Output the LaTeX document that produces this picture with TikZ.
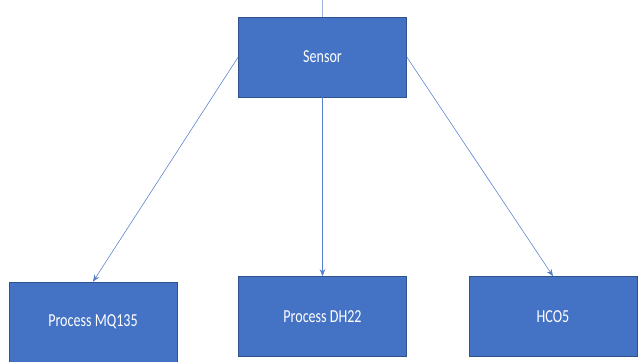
\documentclass[tikz,border=0pt]{standalone}
\usepackage{fontspec}
\setmainfont{Carlito}
\usepackage{tikz}
\usetikzlibrary{positioning,arrows.meta}
\definecolor{cajaAzul}{HTML}{4472C4}
\definecolor{bordeAzul}{HTML}{2F528F}
\colorlet{flechaAzul}{cajaAzul!90!white}
\newcommand{\textoEstrecho}[1]{\scalebox{0.77}[1]{#1}}

\begin{document}
\begin{tikzpicture}[x=0.025cm, y=-0.025cm,
    caja/.style={rectangle, fill=cajaAzul, draw=bordeAzul, thin, text=white,
        minimum width=4.2cm, minimum height=2cm, inner sep=0pt, font=\fontsize{13}{15}\selectfont},
    flecha/.style={-{Stealth[length=5pt, width=4pt]}, color=flechaAzul}]
    % Marco
    \useasboundingbox (0,0) rectangle (640,362);

    % Cajas
    \node[caja] (sensor) at (322.5, 57) {\textoEstrecho{Sensor}};
    \node[caja] (mq) at (93, 322) {\textoEstrecho{Process MQ135}};
    \node[caja] (dh) at (322.5, 316.5) {\textoEstrecho{Process DH22}};
    \node[caja] (hco) at (553, 316.5) {\textoEstrecho{HCO5}};

    % Entrada superior
    \coordinate (entrada) at (322.5, 0);
    \draw[color=flechaAzul!60!white] (entrada) -- (sensor.north);

    % Flechas
    \draw[flecha] (sensor.west) -- (mq.north);
    \draw[flecha] (sensor.south) -- (dh.north);
    \draw[flecha] (sensor.east) -- (hco.north);
\end{tikzpicture}
\end{document}
